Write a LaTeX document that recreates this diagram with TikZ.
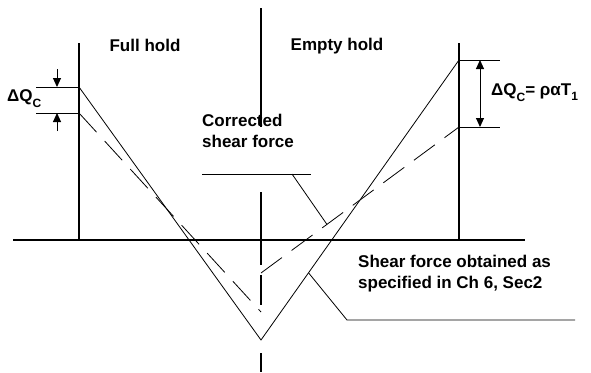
\documentclass[tikz,border=0pt]{standalone}
\usepackage{fontspec}
\setmainfont{Liberation Sans}
\usetikzlibrary{arrows.meta,calc}
\begin{document}
\begin{tikzpicture}[x=1pt,y=-1pt,font=\bfseries\fontsize{17}{21}\selectfont,
  frame/.style={line width=1.3pt},
  shear/.style={line width=.8pt},
  corrected/.style={line width=.8pt,dash pattern=on 26pt off 12pt},
  leader/.style={line width=.8pt},
  tick/.style={line width=1pt},
  tip/.style={-{Triangle[width=8pt,length=9pt]},line width=1pt}]
\useasboundingbox (0,0) rectangle (591,372);
\coordinate (ctop) at (261,8);
\coordinate (cbot) at (261,372);
\coordinate (axl) at (13,240);
\coordinate (axr) at (525,240);
\coordinate (fullt) at (79,43);
\coordinate (fullb) at (79,240);
\coordinate (emptyt) at (459,43);
\coordinate (emptyb) at (459,240);
\coordinate (fullq) at (79,87);
\coordinate (vbot) at (261,340);
\coordinate (emptyq) at (459,60);
\coordinate (fullc) at (79,113);
\coordinate (midcl) at (261,312);
\coordinate (midcr) at (261,273);
\coordinate (emptyc) at (459,127);
\draw[line width=1.3pt,dash pattern=on 119pt off 65pt on 73pt off 10pt on 30pt off 48pt on 30pt] (ctop) -- (cbot);
\draw[line width=1.6pt] (axl) -- (axr);
\draw[frame] (fullt) -- (fullb);
\draw[frame] (emptyt) -- (emptyb);
\draw[shear] (fullq) -- (vbot) -- (emptyq);
\draw[corrected] (fullc) -- (midcl);
\draw[corrected] (midcr) -- (emptyc);
\node[anchor=base] (full) at (145,51) {Full hold};
\node[anchor=base] (empty) at (337,50) {Empty hold};
\draw[tick] (fullq) -- ++(-43,0) coordinate (lqt);
\draw[tick] (fullc) -- ++(-43,0) coordinate (lqb);
\draw[tip] ($(lqt)+(21,-18)$) -- ($(lqt)+(21,0)$);
\draw[tip] ($(lqb)+(21,18)$) -- ($(lqb)+(21,0)$);
\node[anchor=base west,inner sep=0] (dql) at (7,101) {ΔQ\raisebox{-6pt}{\fontsize{12}{12}\selectfont C}};
\draw[tick] (emptyq) -- ++(41,0) coordinate (rqt);
\draw[tick] (emptyc) -- ++(41,0) coordinate (rqb);
\draw[{Triangle[width=8pt,length=9pt]}-{Triangle[width=8pt,length=9pt]},line width=1pt] ($(rqt)+(-20,0)$) -- ($(rqb)+(-20,0)$);
\node[anchor=base west,inner sep=0] (dqr) at (491,95) {ΔQ\raisebox{-6pt}{\fontsize{12}{12}\selectfont C}= ραT\raisebox{-5pt}{\fontsize{12}{12}\selectfont 1}};
\node[anchor=base west,inner sep=0,align=left] (corr) at (202,147) {Corrected\\shear force};
\coordinate (corrul) at (202,174);
\coordinate (corrur) at (311,174);
\coordinate (corrk) at (292,174);
\coordinate (corrpt) at ($(midcr)!.333!(emptyc)$);
\draw[leader] (corrul) -- (corrur);
\draw[leader] (corrk) -- (corrpt);
\node[anchor=base west,inner sep=0,align=left] (obt) at (358,288) {Shear force obtained as\\specified in Ch 6, Sec2};
\coordinate (obtul) at (347,320);
\coordinate (obtur) at (575,320);
\coordinate (obtpt) at ($(vbot)!.24!(emptyq)$);
\draw[leader] (obtur) -- (obtul) -- (obtpt);
\end{tikzpicture}
\end{document}
